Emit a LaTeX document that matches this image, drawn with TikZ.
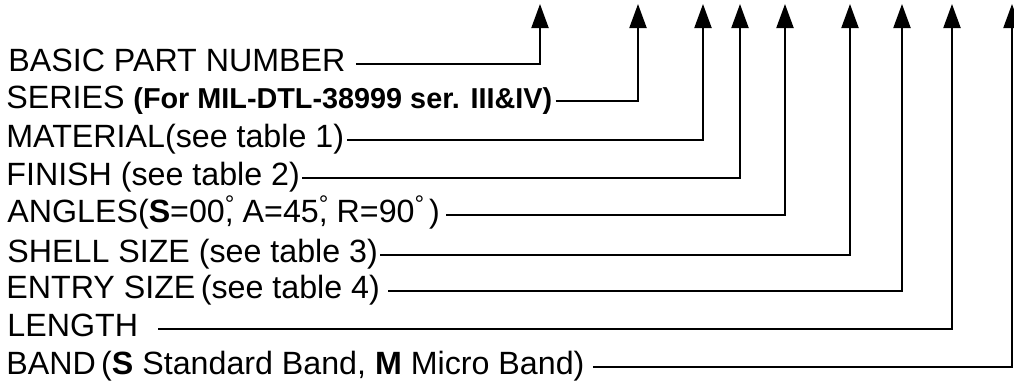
\documentclass[tikz,border=0pt]{standalone}
\usepackage{fontspec}
\setmainfont{Liberation Sans}
\usetikzlibrary{arrows.meta}
\tikzset{
  lbl/.style={anchor=west, inner sep=0pt, text height=0.716em, text depth=0pt,
    font=\fontsize{16.1}{19}\selectfont},
  conn/.style={line width=1pt, -{Triangle[width=8.5pt,length=12pt]}}
}
\newcommand\ring{\raisebox{5pt}{\fontsize{12}{12}\selectfont °}}
\newcommand\ringz{\makebox[0pt][l]{\ring}}
\begin{document}
\begin{tikzpicture}[x=0.5pt, y=-0.5pt]
  \useasboundingbox (0,0) rectangle (1014,387);
  \node[lbl] (basic) at (8,64) {BASIC PART NUMBER};
  \node[lbl] (series) at (6,101) {SERIES {\fontsize{14.4}{18}\selectfont\bfseries (For MIL-DTL-38999 ser. III\&IV)}};
  \node[lbl] (material) at (6,140) {MATERIAL(see table 1)};
  \node[lbl] (finish) at (6,178) {FINISH (see table 2)};
  \node[lbl] (angles) at (7,215) {ANGLES(\textbf{S}=00\ringz, A=45\ringz, R=90\ringz\hspace{0.45em})};
  \node[lbl] (shell) at (7,255) {SHELL SIZE (see table 3)};
  \node[lbl] (entry) at (6,291) {ENTRY SIZE\,(see table 4)};
  \node[lbl] (length) at (7,329) {LENGTH};
  \node[lbl] (band) at (6,367) {BAND\,(\textbf{S} Standard Band, \textbf{M} Micro Band)};
  \foreach \n/\x in {basic/540, series/638, material/703, finish/740, angles/785,
      shell/850, entry/902, length/952, band/1012}
    \coordinate (\n-tip) at (\x,4);
  \foreach \n/\g in {basic/5pt, series/1.5pt, material/1.5pt, finish/1pt, angles/3pt,
      shell/1pt, entry/4pt, length/10pt, band/4pt}
    \draw[conn] ([xshift=\g]\n.east) -| (\n-tip);
\end{tikzpicture}
\end{document}
